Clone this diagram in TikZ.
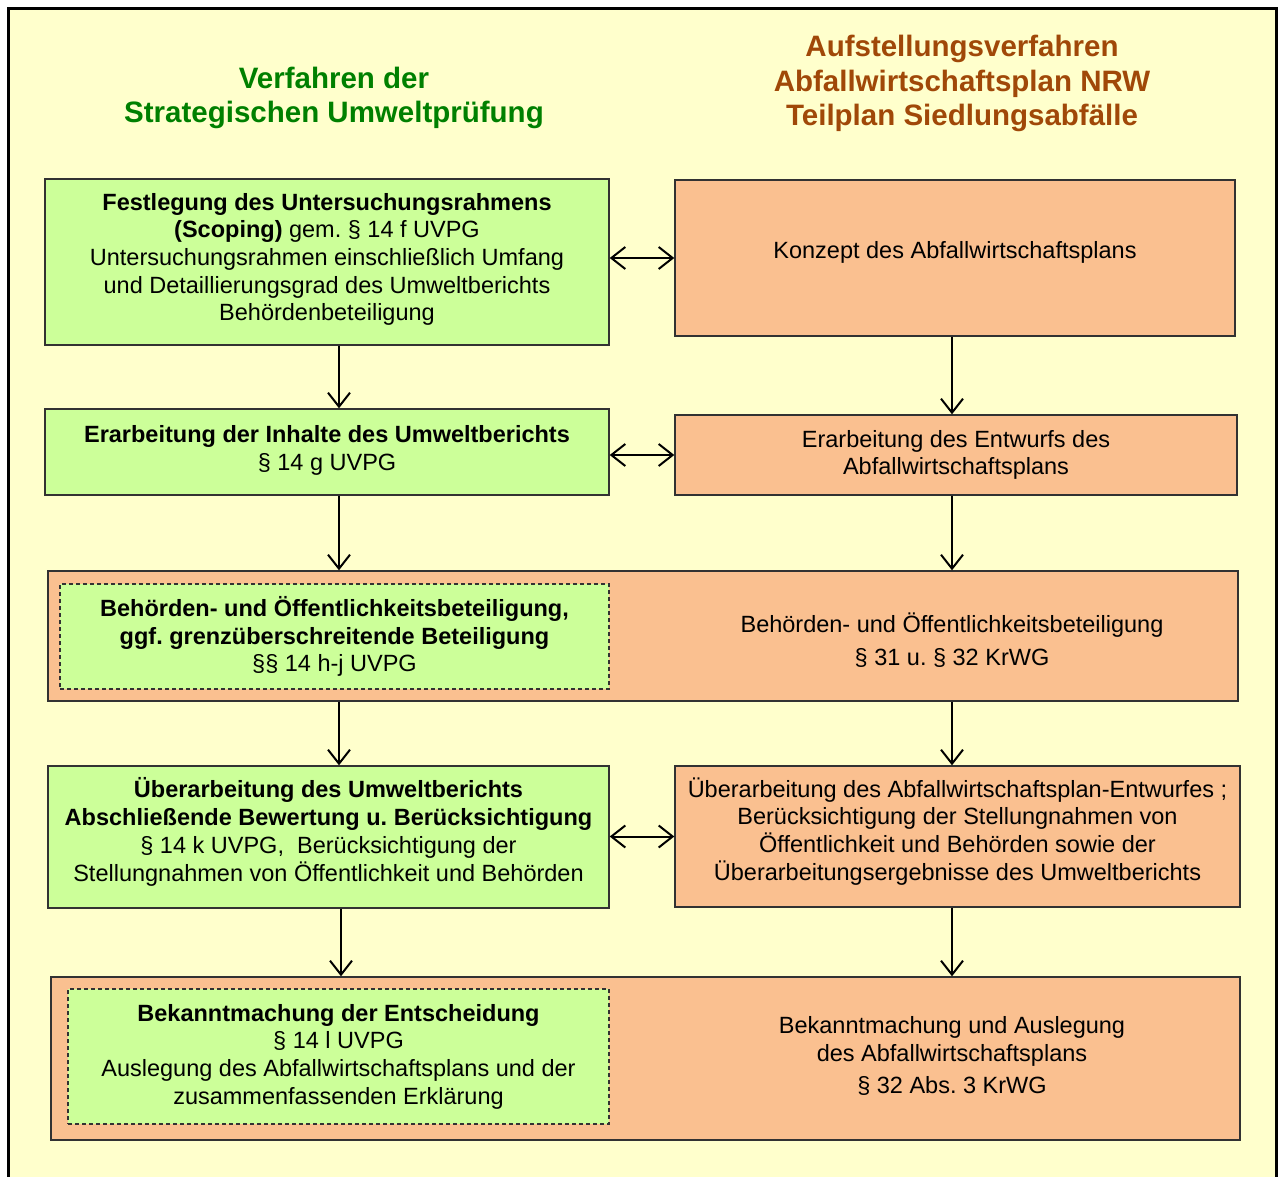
\documentclass[tikz,border=0pt]{standalone}
\usepackage{fontspec}
\setmainfont{Liberation Sans}
\usetikzlibrary{arrows.meta}
\frenchspacing
\definecolor{bgyellow}{RGB}{255,255,204}
\definecolor{boxgreen}{RGB}{204,255,153}
\definecolor{boxorange}{RGB}{250,192,144}
\definecolor{titlegreen}{RGB}{0,128,0}
\definecolor{titlebrown}{RGB}{160,72,8}
\definecolor{edgegray}{RGB}{50,50,50}
\tikzset{
  bodyfont/.style={font=\fontsize{23.5}{27.7}\selectfont},
  titlefont/.style={font=\fontsize{29.5}{34.8}\selectfont\bfseries},
  gbox/.style={draw=edgegray, line width=1.4pt, fill=boxgreen, inner sep=0pt, align=center, bodyfont},
  obox/.style={draw=edgegray, line width=1.4pt, fill=boxorange, inner sep=0pt, align=center, bodyfont},
  dbox/.style={draw=edgegray, line width=1.4pt, dash pattern=on 4pt off 3pt, fill=boxgreen, inner sep=0pt, align=center, bodyfont},
  plaintext/.style={inner sep=0pt, align=center, bodyfont},
  arr/.style={line width=2pt, -{Straight Barb[length=14pt, width=22pt, line width=2pt]}},
  darr/.style={line width=2pt, {Straight Barb[length=14pt, width=22pt, line width=2pt]}-{Straight Barb[length=14pt, width=22pt, line width=2pt]}},
}
\begin{document}
\begin{tikzpicture}[x=1pt, y=-1pt]
\useasboundingbox (0,0) rectangle (1279,1177);
\clip (0,0) rectangle (1279,1177);
\fill[white] (0,0) rectangle (1279,1177);
\fill[bgyellow] (8.5,8.5) rectangle (1276,1190);
\draw[black, line width=3pt] (8.5,1190) -- (8.5,8.5) -- (1276,8.5) -- (1276,1190);

\coordinate (colL) at (339,0);
\coordinate (colR) at (952,0);

% titles
\node[titlefont, text=titlegreen, align=center, inner sep=0pt] (tL) at (334,98) {Verfahren der\\Strategischen Umweltprüfung};
\node[titlefont, text=titlebrown, align=center, inner sep=0pt] (tR) at (962,83.5) {Aufstellungsverfahren\\Abfallwirtschaftsplan NRW\\Teilplan Siedlungsabfälle};

% row 1
\node[gbox, minimum width=564pt, minimum height=166pt, text depth=10pt] (b1) at (327,262)
  {\textbf{Festlegung des Untersuchungsrahmens}\\\textbf{(Scoping)} gem. § 14 f UVPG\\Untersuchungsrahmen einschließlich Umfang\\und Detaillierungsgrad des Umweltberichts\\Behördenbeteiligung};
\node[obox, minimum width=560pt, minimum height=156pt, text depth=17pt] (b1r) at (955,258)
  {Konzept des Abfallwirtschaftsplans};

% row 2
\node[gbox, minimum width=564pt, minimum height=86pt, text depth=8pt] (b2) at (327,452)
  {\textbf{Erarbeitung der Inhalte des Umweltberichts}\\§ 14 g UVPG};
\node[obox, minimum width=562pt, minimum height=80pt] (b2r) at (956,455)
  {Erarbeitung des Entwurfs des\\Abfallwirtschaftsplans};

% row 3
\node[obox, minimum width=1190pt, minimum height=130pt] (b3) at (643,636) {};
\node[dbox, minimum width=549pt, minimum height=105pt] (b3l) at (334.5,636.5)
  {\textbf{Behörden- und Öffentlichkeitsbeteiligung,}\\\textbf{ggf. grenzüberschreitende Beteiligung}\\§§ 14 h-j UVPG};
\node[plaintext] (b3r) at (952,640)
  {Behörden- und Öffentlichkeitsbeteiligung\\[5pt]§ 31 u. § 32 KrWG};

% row 4
\node[gbox, minimum width=561pt, minimum height=142pt, text depth=15pt] (b4) at (328.5,837)
  {\textbf{Überarbeitung des Umweltberichts}\\\textbf{Abschließende Bewertung u. Berücksichtigung}\\§ 14 k UVPG,\ \ Berücksichtigung der\\Stellungnahmen von Öffentlichkeit und Behörden};
\node[obox, minimum width=565pt, minimum height=141pt, text depth=15pt] (b4r) at (957.5,836.5)
  {Überarbeitung des Abfallwirtschaftsplan-Entwurfes ;\\Berücksichtigung der Stellungnahmen von\\Öffentlichkeit und Behörden sowie der\\Überarbeitungsergebnisse des Umweltberichts};

% row 5
\node[obox, minimum width=1189pt, minimum height=163pt] (b5) at (645.5,1058.5) {};
\node[dbox, minimum width=541pt, minimum height=135pt] (b5l) at (338.5,1056.5)
  {\textbf{Bekanntmachung der Entscheidung}\\§ 14 l UVPG\\Auslegung des Abfallwirtschaftsplans und der\\zusammenfassenden Erklärung};
\node[plaintext] (b5r) at (952,1056)
  {Bekanntmachung und Auslegung\\des Abfallwirtschaftsplans\\[5pt]§ 32 Abs. 3 KrWG};

% vertical arrows
\draw[arr] (b1.south -| colL) -- (b2.north -| colL);
\draw[arr] (b2.south -| colL) -- (b3.north -| colL);
\draw[arr] (b3.south -| colL) -- (b4.north -| colL);
\draw[arr] ([xshift=2pt]b4.south -| colL) -- ([xshift=2pt]b5.north -| colL);
\draw[arr] (b1r.south -| colR) -- (b2r.north -| colR);
\draw[arr] (b2r.south -| colR) -- (b3.north -| colR);
\draw[arr] (b3.south -| colR) -- (b4r.north -| colR);
\draw[arr] (b4r.south -| colR) -- (b5.north -| colR);

% horizontal double arrows
\draw[darr] (b1.east |- b1r.west) -- (b1r.west);
\draw[darr] (b2.east |- b2r.west) -- (b2r.west);
\draw[darr] (b4.east |- b4r.west) -- (b4r.west);
\end{tikzpicture}
\end{document}
